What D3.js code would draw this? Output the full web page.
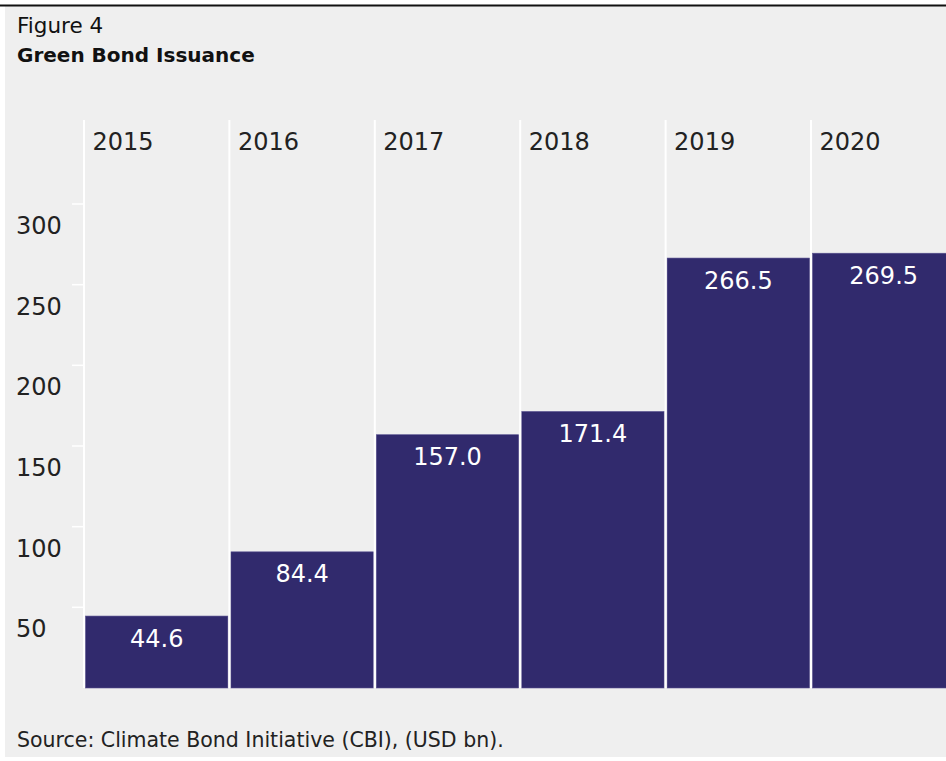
<!DOCTYPE html>
<html>
<head>
<meta charset="utf-8">
<script src="https://cdn.jsdelivr.net/npm/d3@7"></script>
<style>
  body { margin: 0; background: #fff; }
  svg { display: block; }
</style>
</head>
<body>
<div id="chart"></div>
<script>
// data
var years = ["2015", "2016", "2017", "2018", "2019", "2020"];
var issuance = [44.6, 84.4, 157.0, 171.4, 266.5, 269.5];
var yTicks = [50, 100, 150, 200, 250, 300];

var width = 946, height = 761;
var barColor = "#312a6d";
var bg = "#efefef";
var font = "'DejaVu Sans', sans-serif";

var svg = d3.select("#chart").append("svg")
    .attr("width", width)
    .attr("height", height);

// panel background + top rule
svg.append("rect")
    .attr("x", 5).attr("y", 6)
    .attr("width", width - 5).attr("height", 751)
    .style("fill", bg);
svg.append("rect")
    .attr("x", 0).attr("y", 4.5)
    .attr("width", width).attr("height", 2)
    .style("fill", "#111");

// titles
svg.append("text")
    .attr("x", 17).attr("y", 33)
    .attr("font-family", font)
    .attr("font-size", 21.5)
    .style("fill", "#111")
    .text("Figure 4");
svg.append("text")
    .attr("x", 17).attr("y", 62)
    .attr("font-family", font)
    .attr("font-size", 20)
    .attr("font-weight", "bold")
    .style("fill", "#111")
    .text("Green Bond Issuance");

// scales
var x = d3.scaleBand()
    .domain(years)
    .range([84, 84 + 6 * 145.4])
    .padding(0);
var y = d3.scaleLinear()
    .domain([0, 300])
    .range([688, 204]);

// bars
svg.selectAll("rect.bar")
    .data(years)
    .enter().append("rect")
    .attr("class", "bar")
    .attr("x", function(d) { return x(d) + 1.5; })
    .attr("y", function(d, i) { return y(issuance[i]); })
    .attr("width", x.bandwidth() - 3)
    .attr("height", function(d, i) { return y(0) - y(issuance[i]); })
    .style("fill", barColor)
    .style("stroke", "#5a5290")
    .style("stroke-width", 0.6);

// white dividers between columns
svg.selectAll("line.divider")
    .data(years)
    .enter().append("line")
    .attr("class", "divider")
    .attr("x1", function(d) { return x(d); })
    .attr("x2", function(d) { return x(d); })
    .attr("y1", 120)
    .attr("y2", 688)
    .style("stroke", "#fff")
    .style("stroke-width", 2);

// y ticks (small white marks) and labels
svg.selectAll("line.ytick")
    .data(yTicks)
    .enter().append("line")
    .attr("class", "ytick")
    .attr("x1", 72).attr("x2", 84)
    .attr("y1", function(d) { return y(d); })
    .attr("y2", function(d) { return y(d); })
    .style("stroke", "#fff")
    .style("stroke-width", 1.5);

svg.selectAll("text.ylab")
    .data(yTicks)
    .enter().append("text")
    .attr("class", "ylab")
    .attr("x", 16)
    .attr("y", function(d) { return y(d) + 30; })
    .attr("font-family", font)
    .attr("font-size", 24)
    .style("fill", "#222")
    .text(function(d) { return d; });

// year headers
svg.selectAll("text.year")
    .data(years)
    .enter().append("text")
    .attr("class", "year")
    .attr("x", function(d) { return x(d) + 8.5; })
    .attr("y", 149.5)
    .attr("font-family", font)
    .attr("font-size", 24)
    .style("fill", "#222")
    .text(function(d) { return d; });

// value labels
svg.selectAll("text.value")
    .data(years)
    .enter().append("text")
    .attr("class", "value")
    .attr("x", function(d) { return x(d) + x.bandwidth() / 2; })
    .attr("y", function(d, i) { return y(issuance[i]) + 30.5; })
    .attr("text-anchor", "middle")
    .attr("font-family", font)
    .attr("font-size", 24)
    .style("fill", "#fff")
    .text(function(d, i) { return issuance[i].toFixed(1); });

// source
svg.append("text")
    .attr("x", 17).attr("y", 747)
    .attr("font-family", font)
    .attr("font-size", 20.5)
    .style("fill", "#222")
    .text("Source: Climate Bond Initiative (CBI), (USD bn).");
</script>
</body>
</html>
